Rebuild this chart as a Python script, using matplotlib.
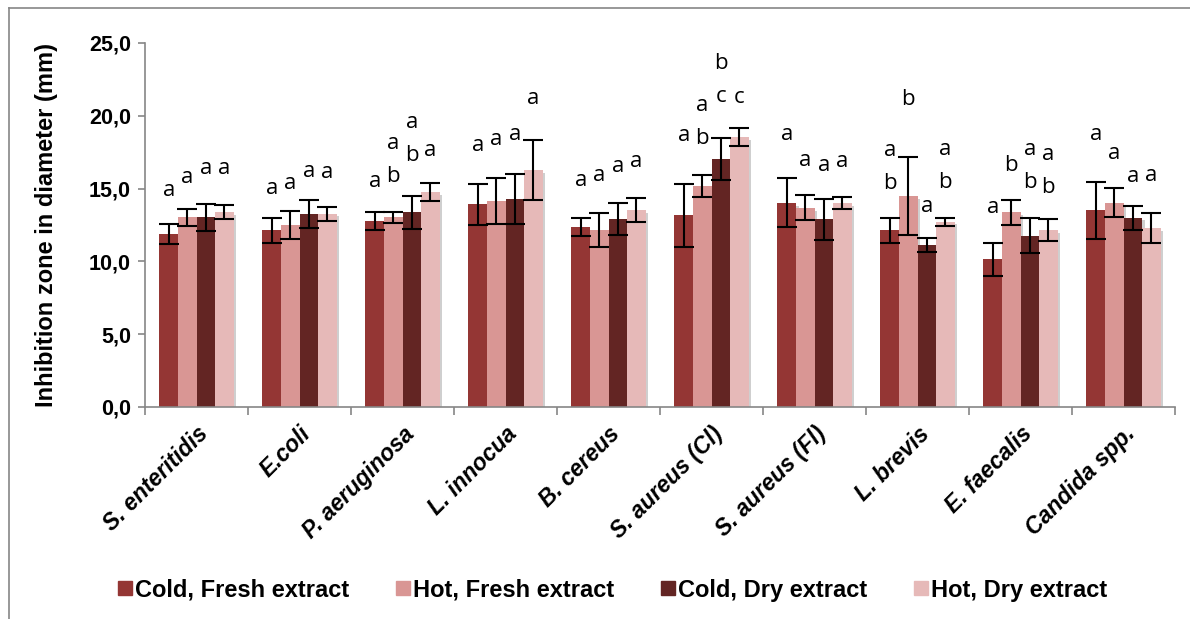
import numpy as np
import matplotlib
matplotlib.use("Agg")
import matplotlib.pyplot as plt
import matplotlib.patheffects as pe
from matplotlib.ticker import FuncFormatter, FixedLocator
from matplotlib.lines import Line2D

# data
strains = ['S. enteritidis', 'E.coli', 'P. aeruginosa', 'L. innocua', 'B. cereus',
           'S. aureus (Cl)', 'S. aureus (Fl)', 'L. brevis', 'E. faecalis', 'Candida spp.']
series = ['Cold, Fresh extract', 'Hot, Fresh extract', 'Cold, Dry extract', 'Hot, Dry extract']

cold_fresh = [11.88, 12.13, 12.77, 13.92, 12.38, 13.17, 14.03, 12.13, 10.14, 13.51]
hot_fresh = [13.03, 12.50, 13.03, 14.15, 12.16, 15.16, 13.67, 14.49, 13.39, 14.03]
cold_dry = [13.03, 13.28, 13.37, 14.26, 12.91, 17.03, 12.89, 11.13, 11.77, 13.00]
hot_dry = [13.37, 13.28, 14.77, 16.28, 13.51, 18.54, 14.03, 12.73, 12.13, 12.27]

cold_fresh_sd = [0.67, 0.86, 0.64, 1.43, 0.63, 2.18, 1.69, 0.86, 1.11, 1.96]
hot_fresh_sd = [0.57, 0.94, 0.38, 1.57, 1.18, 0.76, 0.86, 2.71, 0.86, 1.00]
cold_dry_sd = [0.93, 0.96, 1.13, 1.72, 1.11, 1.42, 1.39, 0.48, 1.19, 0.81]
hot_dry_sd = [0.48, 0.48, 0.64, 2.07, 0.82, 0.60, 0.41, 0.27, 0.76, 1.02]

# significance letters and the height (mm) where each label sits
cold_fresh_lbl = ['a', 'a', 'a', 'a', 'a', 'a', 'a', 'a\nb', 'a', 'a']
hot_fresh_lbl = ['a', 'a', 'a\nb', 'a', 'a', 'a\nb', 'a', 'b', 'b', 'a']
cold_dry_lbl = ['a', 'a', 'a\nb', 'a', 'a', 'b\nc', 'a', 'a', 'a\nb', 'a']
hot_dry_lbl = ['a', 'a', 'a', 'a', 'a', 'c', 'a', 'a\nb', 'a\nb', 'a']

cold_fresh_y = [14.90, 15.02, 15.47, 17.99, 15.59, 18.63, 18.75, 16.45, 13.72, 18.75]
hot_fresh_y = [15.73, 15.36, 16.98, 18.39, 15.93, 19.57, 16.96, 21.09, 16.62, 17.42]
cold_dry_y = [16.35, 16.16, 18.42, 18.75, 16.50, 22.48, 16.62, 13.76, 16.54, 15.82]
hot_dry_y = [16.41, 16.09, 17.65, 21.20, 16.85, 21.27, 16.85, 16.56, 16.22, 15.93]

colors = ['#943634', '#D99694', '#632523', '#E6B9B8']
values = [cold_fresh, hot_fresh, cold_dry, hot_dry]
errors = [cold_fresh_sd, hot_fresh_sd, cold_dry_sd, hot_dry_sd]
labels = [cold_fresh_lbl, hot_fresh_lbl, cold_dry_lbl, hot_dry_lbl]
label_y = [cold_fresh_y, hot_fresh_y, cold_dry_y, hot_dry_y]

grey = '#868686'
W, H = 1190, 619
fig = plt.figure(figsize=(W / 100, H / 100), dpi=100)
ax = fig.add_axes([145 / W, 1 - 407 / H, 1030 / W, 364 / H])

x = np.arange(len(strains))
bw = 0.18
shadow = [pe.SimplePatchShadow(offset=(2, -2), shadow_rgbFace='#777777', alpha=0.35), pe.Normal()]
for i in range(4):
    xs = x + (i - 1.5) * bw
    bars = ax.bar(xs, values[i], bw, color=colors[i], label=series[i], zorder=2)
    for b in bars:
        b.set_path_effects(shadow)
    ax.errorbar(xs, values[i], yerr=errors[i], fmt='none', ecolor='black',
                elinewidth=1.5, capsize=7, capthick=1.5, zorder=3)
    for j in range(len(strains)):
        ax.text(xs[j], label_y[i][j], labels[i][j], ha='center', va='center',
                fontsize=16, family='Open Sans', linespacing=1.75, zorder=4)

ax.set_xlim(-0.5, len(strains) - 0.5)
ax.set_ylim(0, 25)
ax.set_yticks(np.arange(0, 26, 5))
ax.yaxis.set_major_formatter(FuncFormatter(lambda v, p: f'{v:.1f}'.replace('.', ',')))

for s in ['top', 'right']:
    ax.spines[s].set_visible(False)
for s in ['left', 'bottom']:
    ax.spines[s].set_color(grey)
    ax.spines[s].set_linewidth(1.2)

ax.tick_params(axis='y', direction='out', length=5, width=1.2, color=grey, pad=5,
               labelsize=15.5)
for t in ax.get_yticklabels():
    t.set_fontweight('bold')
    t.set_family('Liberation Sans')

ax.set_xticks(x)
ax.set_xticklabels(strains, rotation=45, ha='right', rotation_mode='anchor',
                   fontsize=16.5, fontweight='bold', fontstyle='italic',
                   family='Liberation Sans')
ax.tick_params(axis='x', which='major', length=0, pad=11)
ax.xaxis.set_minor_locator(FixedLocator(np.arange(-0.5, len(strains), 1)))
ax.tick_params(axis='x', which='minor', direction='out', length=6, width=1.2, color=grey)

ax.set_ylabel('Inhibition zone in diameter (mm)', fontsize=17, fontweight='bold',
              family='Liberation Sans')
ax.yaxis.set_label_coords((47 - 145) / 1030, 0.5)
ax.yaxis.label.set_va('center')

handles = [Line2D([], [], marker='s', linestyle='none', markersize=10,
                  markerfacecolor=c, markeredgecolor=c) for c in colors]
fig.legend(handles, series, loc='center', bbox_to_anchor=(613 / W, 1 - 590 / H),
           ncol=4, frameon=False, handlelength=0.55, handletextpad=0.15,
           columnspacing=2.0, prop={'family': 'Liberation Sans', 'weight': 'bold', 'size': 17})

# chart area border (top and left edges visible)
fig.add_artist(Line2D([9 / W, 9 / W], [0, 1 - 8 / H], color=grey, lw=1.2,
                      transform=fig.transFigure))
fig.add_artist(Line2D([9 / W, 1], [1 - 8 / H, 1 - 8 / H], color=grey, lw=1.2,
                      transform=fig.transFigure))

fig.savefig('out.png', dpi=100)
